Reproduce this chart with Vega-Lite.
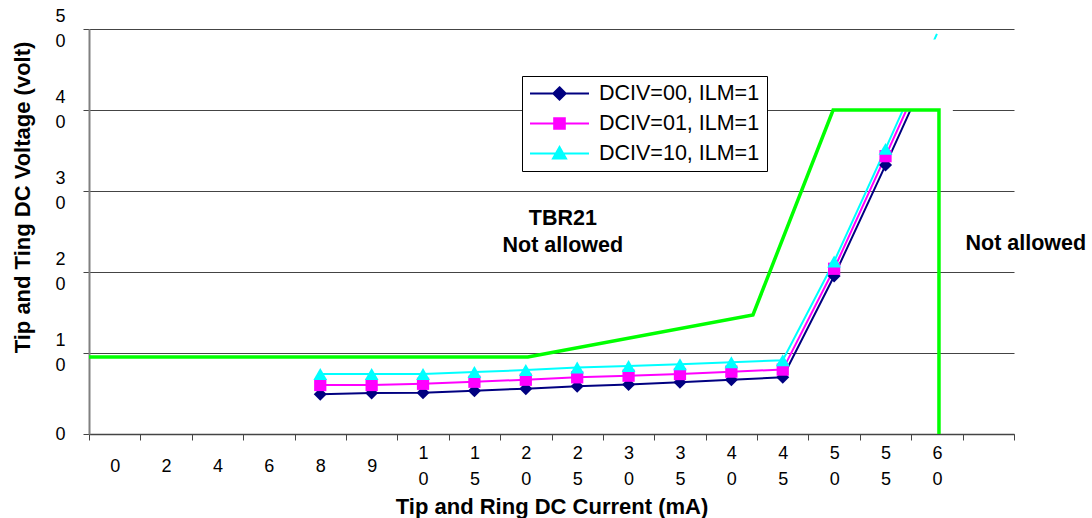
{
  "$schema": "https://vega.github.io/schema/vega-lite/v6.json",
  "width": 925,
  "height": 405,
  "autosize": {"type": "none"},
  "padding": {"left": 89, "top": 29, "right": 78, "bottom": 84},
  "background": "white",
  "config": {"view": {"stroke": null}, "font": "Liberation Sans"},
  "datasets": {
    "series": [
      {"series": "DCIV=00, ILM=1", "current": "8", "volt": 4.9},
      {"series": "DCIV=00, ILM=1", "current": "9", "volt": 5.05},
      {"series": "DCIV=00, ILM=1", "current": "10", "volt": 5.1},
      {"series": "DCIV=00, ILM=1", "current": "15", "volt": 5.35},
      {"series": "DCIV=00, ILM=1", "current": "20", "volt": 5.6},
      {"series": "DCIV=00, ILM=1", "current": "25", "volt": 5.9},
      {"series": "DCIV=00, ILM=1", "current": "30", "volt": 6.1},
      {"series": "DCIV=00, ILM=1", "current": "35", "volt": 6.4},
      {"series": "DCIV=00, ILM=1", "current": "40", "volt": 6.7},
      {"series": "DCIV=00, ILM=1", "current": "45", "volt": 7.0},
      {"series": "DCIV=00, ILM=1", "current": "50", "volt": 19.5},
      {"series": "DCIV=00, ILM=1", "current": "55", "volt": 33.2},
      {"series": "DCIV=00, ILM=1", "current": "60", "volt": 47.2},
      {"series": "DCIV=01, ILM=1", "current": "8", "volt": 6.05},
      {"series": "DCIV=01, ILM=1", "current": "9", "volt": 6.05},
      {"series": "DCIV=01, ILM=1", "current": "10", "volt": 6.2},
      {"series": "DCIV=01, ILM=1", "current": "15", "volt": 6.45},
      {"series": "DCIV=01, ILM=1", "current": "20", "volt": 6.7},
      {"series": "DCIV=01, ILM=1", "current": "25", "volt": 7.0},
      {"series": "DCIV=01, ILM=1", "current": "30", "volt": 7.2},
      {"series": "DCIV=01, ILM=1", "current": "35", "volt": 7.4},
      {"series": "DCIV=01, ILM=1", "current": "40", "volt": 7.7},
      {"series": "DCIV=01, ILM=1", "current": "45", "volt": 7.95},
      {"series": "DCIV=01, ILM=1", "current": "50", "volt": 20.4},
      {"series": "DCIV=01, ILM=1", "current": "55", "volt": 34.3},
      {"series": "DCIV=01, ILM=1", "current": "60", "volt": 48.3},
      {"series": "DCIV=10, ILM=1", "current": "8", "volt": 7.4},
      {"series": "DCIV=10, ILM=1", "current": "9", "volt": 7.4},
      {"series": "DCIV=10, ILM=1", "current": "10", "volt": 7.4},
      {"series": "DCIV=10, ILM=1", "current": "15", "volt": 7.65},
      {"series": "DCIV=10, ILM=1", "current": "20", "volt": 7.9},
      {"series": "DCIV=10, ILM=1", "current": "25", "volt": 8.2},
      {"series": "DCIV=10, ILM=1", "current": "30", "volt": 8.4},
      {"series": "DCIV=10, ILM=1", "current": "35", "volt": 8.6},
      {"series": "DCIV=10, ILM=1", "current": "40", "volt": 8.85},
      {"series": "DCIV=10, ILM=1", "current": "45", "volt": 9.1},
      {"series": "DCIV=10, ILM=1", "current": "50", "volt": 21.3},
      {"series": "DCIV=10, ILM=1", "current": "55", "volt": 35.2},
      {"series": "DCIV=10, ILM=1", "current": "60", "volt": 49.4}
    ],
    "boundary": [
      {"step": 1, "slot": 0, "volt": 9.5},
      {"step": 2, "slot": 8.54, "volt": 9.5},
      {"step": 3, "slot": 12.92, "volt": 14.7},
      {"step": 4, "slot": 14.48, "volt": 40},
      {"step": 5, "slot": 16.54, "volt": 40},
      {"step": 6, "slot": 16.54, "volt": 0}
    ],
    "mask": [
      {"slot": 15.6, "slot2": 16.81, "volt": 39.85, "volt2": 48.7}
    ],
    "notes": [
      {"slot": 9.22, "volt": 26.5, "label": "TBR21\nNot allowed"},
      {"slot": 18.23, "volt": 23.5, "label": "Not allowed"}
    ]
  },
  "encoding": {
    "y": {
      "field": "volt",
      "type": "quantitative",
      "scale": {"domain": [0, 50], "nice": false, "zero": true},
      "axis": {
        "title": "Tip and Ting DC Voltage (volt)",
        "titleFont": "Liberation Sans",
        "titleFontSize": 22,
        "titleFontWeight": "bold",
        "titleColor": "black",
        "titleAngle": -90,
        "titleX": -67,
        "titleY": 168,
        "titleAlign": "center",
        "titleBaseline": "middle",
        "values": [0, 10, 20, 30, 40, 50],
        "labelExpr": "length(datum.label) > 1 ? [slice(datum.label, 0, 1), '\u200b', slice(datum.label, 1)] : ['\u200b', datum.label]",
        "labelFont": "Liberation Sans",
        "labelFontSize": 18,
        "labelColor": "black",
        "labelLineHeight": 12.5,
        "labelBaseline": "middle",
        "labelOffset": -12.5,
        "labelPadding": 18,
        "labelOverlap": false,
        "labelFlush": false,
        "grid": true,
        "gridColor": "#444444",
        "gridWidth": 1,
        "tickSize": 6,
        "tickColor": "#444444",
        "domainColor": "#808080",
        "domainWidth": 2
      }
    }
  },
  "layer": [
    {
      "data": {"name": "series"},
      "encoding": {
        "x": {
          "field": "current",
          "type": "ordinal",
          "bandPosition": 0.5,
          "scale": {
            "type": "band",
            "domain": ["0", "2", "4", "6", "8", "9", "10", "15", "20", "25", "30", "35", "40", "45", "50", "55", "60", ""],
            "paddingInner": 0,
            "paddingOuter": 0
          },
          "axis": {
            "title": "Tip and Ring DC Current (mA)",
            "titleFont": "Liberation Sans",
            "titleFontSize": 22,
            "titleFontWeight": "bold",
            "titleColor": "black",
            "titleY": 72,
            "titleBaseline": "middle",
            "labelExpr": "length(datum.label) > 1 ? [slice(datum.label, 0, 1), '\u200b', slice(datum.label, 1)] : ['\u200b', datum.label]",
            "labelFont": "Liberation Sans",
            "labelFontSize": 18,
            "labelColor": "black",
            "labelAngle": 0,
            "labelLineHeight": 13.25,
            "labelBaseline": "middle",
            "labelPadding": 13,
            "labelOverlap": false,
            "tickBand": "extent",
            "tickSize": 6,
            "tickColor": "#444444",
            "domainColor": "#444444",
            "domainWidth": 1.5
          }
        },
        "color": {
          "field": "series",
          "type": "nominal",
          "scale": {
            "domain": ["DCIV=00, ILM=1", "DCIV=01, ILM=1", "DCIV=10, ILM=1"],
            "range": ["#000080", "#FF00FF", "#00FFFF"]
          },
          "legend": {
            "orient": "none",
            "legendX": 433,
            "legendY": 47,
            "title": null,
            "strokeColor": "black",
            "fillColor": "white",
            "padding": 7,
            "rowPadding": 8,
            "clipHeight": 21,
            "labelFont": "Liberation Sans",
            "labelFontSize": 21.5,
            "labelColor": "black",
            "labelLimit": 400,
            "labelOffset": 9,
            "symbolSize": 3481,
            "symbolStrokeWidth": 2,
            "symbolOpacity": 1,
            "encode": {
              "symbols": {
                "update": {
                  "shape": {"signal": "datum.value === 'DCIV=00, ILM=1' ? 'M-1,0L1,0M0,-0.21L0.21,0L0,0.21L-0.21,0Z' : datum.value === 'DCIV=01, ILM=1' ? 'M-1,0L1,0M-0.18,-0.18L0.18,-0.18L0.18,0.18L-0.18,0.18Z' : 'M-1,0L1,0M0,-0.22L0.22,0.17L-0.22,0.17Z'"},
                  "fill": {"signal": "scale('color', datum.value)"},
                  "stroke": {"signal": "scale('color', datum.value)"},
                  "strokeWidth": {"value": 2},
                  "opacity": {"value": 1}
                }
              }
            }
          }
        }
      },
      "layer": [
        {"mark": {"type": "line", "strokeWidth": 2}},
        {
          "transform": [{"filter": "datum.current !== '60' && datum.series === 'DCIV=00, ILM=1'"}],
          "mark": {"type": "point", "shape": "diamond", "filled": true, "opacity": 1, "size": 170, "strokeWidth": 0}
        },
        {
          "transform": [{"filter": "datum.current !== '60' && datum.series === 'DCIV=01, ILM=1'"}],
          "mark": {"type": "point", "shape": "square", "filled": true, "opacity": 1, "size": 150, "strokeWidth": 0}
        },
        {
          "transform": [{"filter": "datum.current !== '60' && datum.series === 'DCIV=10, ILM=1'"}],
          "mark": {"type": "point", "shape": "triangle-up", "filled": true, "opacity": 1, "size": 190, "strokeWidth": 0}
        }
      ]
    },
    {
      "encoding": {
        "x": {
          "field": "slot",
          "type": "quantitative",
          "scale": {"domain": [0, 18], "nice": false, "zero": false},
          "axis": null
        }
      },
      "layer": [
        {
          "data": {"name": "mask"},
          "mark": {"type": "rect", "color": "white"},
          "encoding": {"x2": {"field": "slot2"}, "y2": {"field": "volt2"}}
        },
        {
          "data": {"name": "boundary"},
          "mark": {"type": "line", "color": "#00FF00", "strokeWidth": 3.5},
          "encoding": {"order": {"field": "step", "type": "quantitative"}}
        },
        {
          "data": {"name": "notes"},
          "mark": {"type": "text", "font": "Liberation Sans", "fontSize": 21.5, "fontWeight": "bold", "lineBreak": "\n", "lineHeight": 27, "baseline": "middle", "align": "center", "color": "black"},
          "encoding": {"text": {"field": "label", "type": "nominal"}}
        }
      ]
    }
  ],
  "resolve": {"scale": {"x": "independent"}, "axis": {"x": "independent"}}
}
